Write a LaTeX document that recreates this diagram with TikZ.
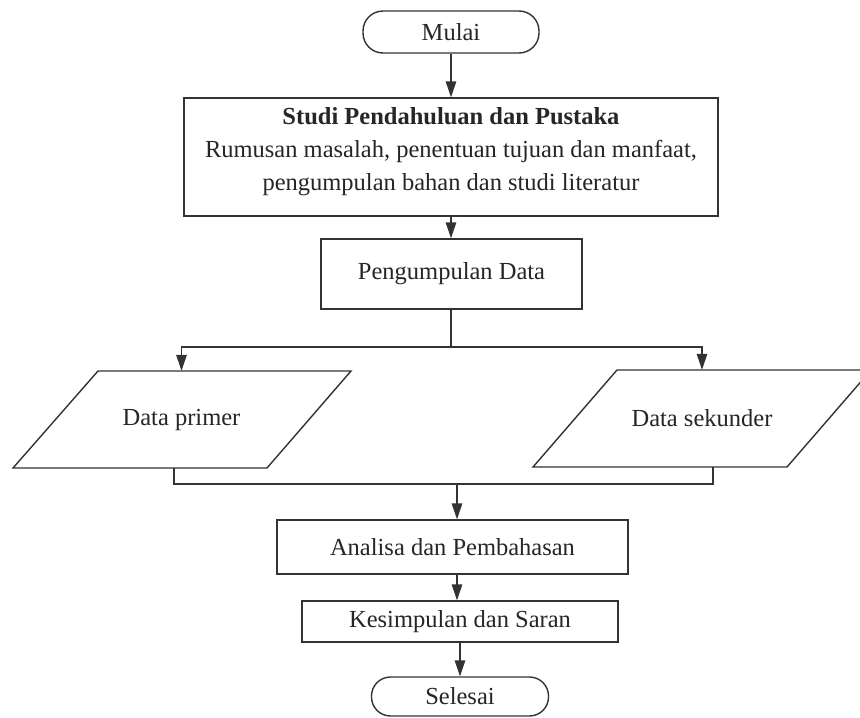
\documentclass[tikz,border=0pt]{standalone}
\usepackage{fontspec}
\setmainfont{Liberation Serif}
\usetikzlibrary{arrows.meta}
\begin{document}
\begin{tikzpicture}[x=1pt,y=-1pt,
  every node/.style={font=\fontsize{24.5}{33}\selectfont, text=black!85},
  box/.style={draw=black!80, line width=1.4pt, rectangle, inner sep=0pt},
  term/.style={box, rounded corners=20pt},
  flow/.style={draw=black!80, line width=1.4pt},
  arr/.style={flow, -{Triangle[length=16pt,width=10.5pt]}},
  txt/.style={inner sep=0pt, minimum height=97pt}]
\clip (0,0) rectangle (860,718);
\fill[white] (0,0) rectangle (860,718);

\node[term, minimum width=176pt, minimum height=42pt] (mulai) at (451,32) {Mulai};
\node[box, minimum width=534pt, minimum height=118pt] (studi) at (451,157) {};
\node[inner sep=0pt, align=center] (studitext) at ([yshift=5pt]studi.center)
  {\textbf{Studi Pendahuluan dan Pustaka}\\Rumusan masalah, penentuan tujuan dan manfaat,\\pengumpulan bahan dan studi literatur};
\node[box, minimum width=261pt, minimum height=70pt] (peng) at (451.5,274) {Pengumpulan Data};

\node[txt] (primer) at (181.5,419.5) {Data primer};
\draw[flow] (primer.center) ++(-168.5,48.5) -- ++(254,0) -- ++(84,-97) -- ++(-253,0) -- cycle;
\node[txt] (sek) at (702,418.5) {Data sekunder};
\draw[flow] (sek.center) ++(-169,48.5) -- ++(254,0) -- ++(84,-97) -- ++(-254,0) -- cycle;

\node[box, minimum width=351pt, minimum height=54pt] (analisa) at (452.5,547) {Analisa dan Pembahasan};
\node[box, minimum width=316pt, minimum height=41pt] (kes) at (460,621.5) {Kesimpulan dan Saran};
\node[term, minimum width=177pt, minimum height=39pt, rounded corners=19pt] (sel) at (460,696.5) {Selesai};

\draw[arr] (mulai.south) -- (studi.north);
\draw[arr] (studi.south) -- (studi.south |- peng.north);

\coordinate (split) at (451,347);
\draw[flow] (peng.south -| split) -- (split);
\draw[arr] (split) -| (primer.north);
\draw[arr] (split) -| (sek.north);

\coordinate (join) at (457,484);
\draw[flow] ([xshift=-7.5pt]primer.south) |- (join);
\draw[flow] ([xshift=11pt]sek.south) |- (join);
\draw[arr] (join) -- (join |- analisa.north);
\draw[arr] (analisa.south -| join) -- (kes.north -| join);
\draw[arr] (kes.south) -- (sel.north);
\end{tikzpicture}
\end{document}
